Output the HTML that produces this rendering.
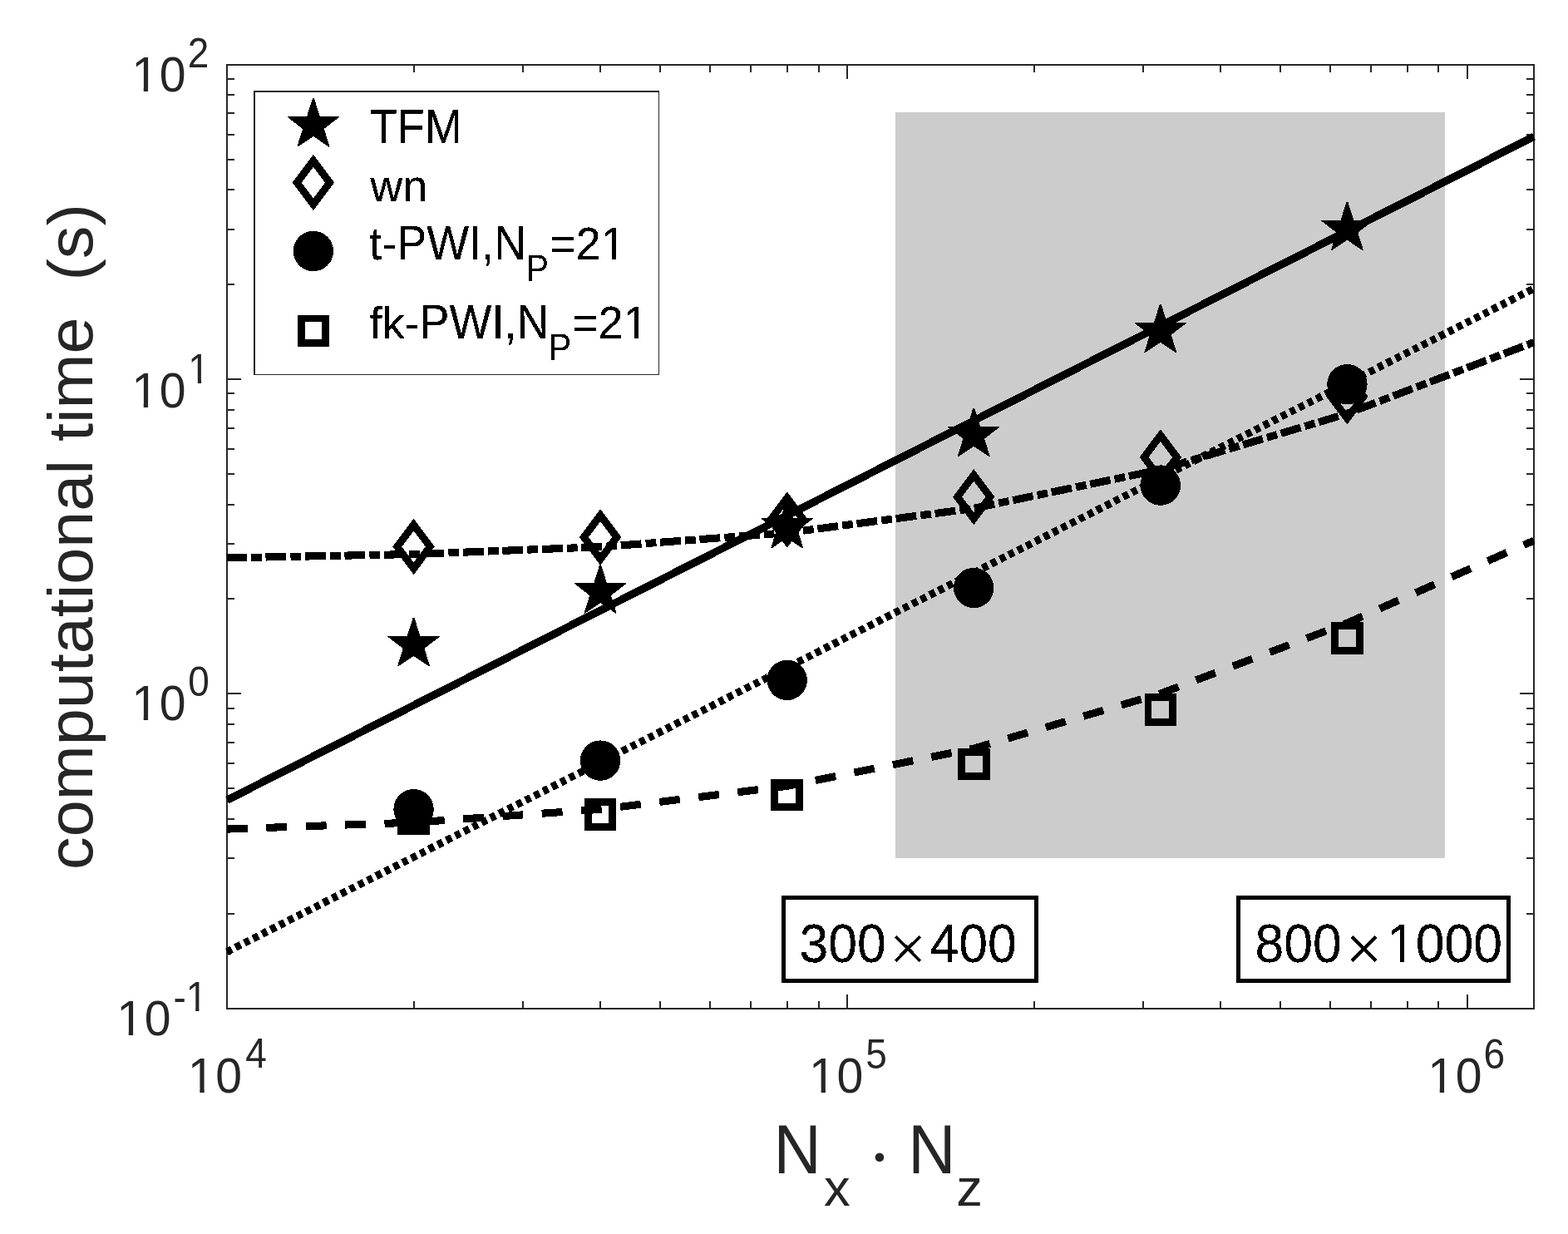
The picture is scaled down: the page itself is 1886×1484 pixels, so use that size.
<!DOCTYPE html>
<html lang="en"><head><meta charset="utf-8"><title>Computational time vs image size</title>
<style>html,body{margin:0;padding:0;background:#fff}body{width:1886px;height:1484px;overflow:hidden}svg{display:block}text{font-family:"Liberation Sans",sans-serif}.sf{font-family:"Liberation Serif",serif}</style>
</head><body>
<svg xmlns="http://www.w3.org/2000/svg" width="1886" height="1484" viewBox="0 0 1886 1484">
<rect x="0" y="0" width="1886" height="1484" fill="#fff"/>
<defs><filter id="crisp" filterUnits="userSpaceOnUse" x="0" y="0" width="1886" height="1484" color-interpolation-filters="sRGB"><feComponentTransfer><feFuncA type="discrete" tableValues="0 0 1 1 1"/></feComponentTransfer></filter></defs>
<defs><clipPath id="ax"><rect x="271.50" y="78.00" width="1575.00" height="1135.00"/></clipPath></defs>
<rect x="1077" y="135" width="661" height="897" fill="#cccccc" shape-rendering="crispEdges"/>
<g stroke="#262626" stroke-width="2" fill="none" shape-rendering="crispEdges">
<rect x="273.0" y="78.0" width="1572.0" height="1135.0"/>
<path d="M498.00 1213.00v-8.70M498.00 78.00v8.70M629.00 1213.00v-8.70M629.00 78.00v8.70M722.00 1213.00v-8.70M722.00 78.00v8.70M794.00 1213.00v-8.70M794.00 78.00v8.70M854.00 1213.00v-8.70M854.00 78.00v8.70M903.00 1213.00v-8.70M903.00 78.00v8.70M947.00 1213.00v-8.70M947.00 78.00v8.70M985.00 1213.00v-8.70M985.00 78.00v8.70M1019.00 1213.00v-17.00M1019.00 78.00v17.00M1244.00 1213.00v-8.70M1244.00 78.00v8.70M1375.00 1213.00v-8.70M1375.00 78.00v8.70M1468.00 1213.00v-8.70M1468.00 78.00v8.70M1540.00 1213.00v-8.70M1540.00 78.00v8.70M1600.00 1213.00v-8.70M1600.00 78.00v8.70M1649.00 1213.00v-8.70M1649.00 78.00v8.70M1693.00 1213.00v-8.70M1693.00 78.00v8.70M1730.00 1213.00v-8.70M1730.00 78.00v8.70M1765.00 1213.00v-17.00M1765.00 78.00v17.00M273.00 1099.00h8.70M1845.00 1099.00h-8.70M273.00 1032.00h8.70M1845.00 1032.00h-8.70M273.00 985.00h8.70M1845.00 985.00h-8.70M273.00 948.00h8.70M1845.00 948.00h-8.70M273.00 918.00h8.70M1845.00 918.00h-8.70M273.00 893.00h8.70M1845.00 893.00h-8.70M273.00 871.00h8.70M1845.00 871.00h-8.70M273.00 852.00h8.70M1845.00 852.00h-8.70M273.00 834.00h17.00M1845.00 834.00h-17.00M273.00 720.00h8.70M1845.00 720.00h-8.70M273.00 654.00h8.70M1845.00 654.00h-8.70M273.00 607.00h8.70M1845.00 607.00h-8.70M273.00 570.00h8.70M1845.00 570.00h-8.70M273.00 540.00h8.70M1845.00 540.00h-8.70M273.00 515.00h8.70M1845.00 515.00h-8.70M273.00 493.00h8.70M1845.00 493.00h-8.70M273.00 473.00h8.70M1845.00 473.00h-8.70M273.00 456.00h17.00M1845.00 456.00h-17.00M273.00 342.00h8.70M1845.00 342.00h-8.70M273.00 276.00h8.70M1845.00 276.00h-8.70M273.00 228.00h8.70M1845.00 228.00h-8.70M273.00 192.00h8.70M1845.00 192.00h-8.70M273.00 162.00h8.70M1845.00 162.00h-8.70M273.00 136.00h8.70M1845.00 136.00h-8.70M273.00 114.00h8.70M1845.00 114.00h-8.70M273.00 95.00h8.70M1845.00 95.00h-8.70"/>
</g>
<g clip-path="url(#ax)" fill="none" stroke="#000" stroke-width="9.1" stroke-linejoin="round" shape-rendering="crispEdges">
<polyline points="273.00,962.30 497.57,848.20 722.14,734.10 946.71,620.00 1171.27,505.90 1395.84,391.90 1620.41,278.00 1844.98,164.10" stroke-width="9.3"/>
<polyline points="273.00,670.90 497.57,666.50 722.14,657.70 946.71,640.70 1171.27,611.40 1395.84,564.70 1620.41,497.40 1844.98,411.60" stroke-dasharray="24.9 5.1 12.8 4.7" stroke-dashoffset="1.0"/>
<polyline points="273.00,1144.70 497.57,1030.70 722.14,916.80 946.71,802.80 1171.27,688.80 1395.84,574.80 1620.41,460.90 1844.98,347.00" stroke-dasharray="7.0 4.853" stroke-dashoffset="0.3"/>
<polyline points="273.00,997.10 497.57,989.10 722.14,973.30 946.71,945.30 1171.27,900.10 1395.84,834.10 1620.41,749.20 1844.98,650.10" stroke-dasharray="24.9 22.5" stroke-dashoffset="0"/>
</g>
<rect x="305.8" y="110.1" width="486.8" height="340.4" fill="#fff" stroke="#262626" stroke-width="1.6" shape-rendering="crispEdges"/>
<g shape-rendering="crispEdges">
<g fill="#000" stroke="none">
<polygon points="498.47,742.90 505.47,765.20 528.87,765.20 528.47,766.00 510.47,779.90 517.07,801.00 516.17,801.50 497.57,788.90 478.97,801.50 478.07,801.00 484.67,779.90 466.67,766.00 466.27,765.20 489.67,765.20 496.67,742.90"/>
<polygon points="723.04,679.10 730.04,701.40 753.44,701.40 753.04,702.20 735.04,716.10 741.64,737.20 740.74,737.70 722.14,725.10 703.54,737.70 702.64,737.20 709.24,716.10 691.24,702.20 690.84,701.40 714.24,701.40 721.24,679.10"/>
<polygon points="947.61,600.90 954.61,623.20 978.01,623.20 977.61,624.00 959.61,637.90 966.21,659.00 965.31,659.50 946.71,646.90 928.11,659.50 927.21,659.00 933.81,637.90 915.81,624.00 915.41,623.20 938.81,623.20 945.81,600.90"/>
<polygon points="1172.17,490.70 1179.17,513.00 1202.57,513.00 1202.17,513.80 1184.17,527.70 1190.77,548.80 1189.87,549.30 1171.27,536.70 1152.67,549.30 1151.77,548.80 1158.37,527.70 1140.37,513.80 1139.97,513.00 1163.37,513.00 1170.37,490.70"/>
<polygon points="1396.74,365.70 1403.74,388.00 1427.14,388.00 1426.74,388.80 1408.74,402.70 1415.34,423.80 1414.44,424.30 1395.84,411.70 1377.24,424.30 1376.34,423.80 1382.94,402.70 1364.94,388.80 1364.54,388.00 1387.94,388.00 1394.94,365.70"/>
<polygon points="1621.31,242.70 1628.31,265.00 1651.71,265.00 1651.31,265.80 1633.31,279.70 1639.91,300.80 1639.01,301.30 1620.41,288.70 1601.81,301.30 1600.91,300.80 1607.51,279.70 1589.51,265.80 1589.11,265.00 1612.51,265.00 1619.51,242.70"/>
<polygon points="377.80,118.00 384.80,140.30 408.20,140.30 407.80,141.10 389.80,155.00 396.40,176.10 395.50,176.60 376.90,164.00 358.30,176.60 357.40,176.10 364.00,155.00 346.00,141.10 345.60,140.30 369.00,140.30 376.00,118.00"/>
<circle cx="497.57" cy="973.20" r="24.20"/>
<circle cx="722.14" cy="914.60" r="24.20"/>
<circle cx="946.71" cy="817.90" r="24.20"/>
<circle cx="1171.27" cy="707.00" r="24.20"/>
<circle cx="1395.84" cy="583.60" r="24.20"/>
<circle cx="1620.41" cy="462.20" r="24.20"/>
<circle cx="376.90" cy="302.00" r="24.20"/>
</g>
<g fill="none" stroke="#000" stroke-width="8.9" stroke-linejoin="miter" stroke-miterlimit="10">
<polygon points="497.57,631.10 517.27,657.40 497.57,683.70 477.87,657.40"/>
<polygon points="722.14,619.70 741.84,646.00 722.14,672.30 702.44,646.00"/>
<polygon points="946.71,598.70 966.41,625.00 946.71,651.30 927.01,625.00"/>
<polygon points="1171.27,571.30 1190.97,597.60 1171.27,623.90 1151.57,597.60"/>
<polygon points="1395.84,523.60 1415.54,549.90 1395.84,576.20 1376.14,549.90"/>
<polygon points="1620.41,450.60 1640.11,476.90 1620.41,503.20 1600.71,476.90"/>
<polygon points="376.90,193.30 396.60,219.60 376.90,245.90 357.20,219.60"/>
<rect x="482.77" y="970.00" width="29.60" height="29.60"/>
<rect x="707.34" y="964.70" width="29.60" height="29.60"/>
<rect x="931.91" y="941.10" width="29.60" height="29.60"/>
<rect x="1156.47" y="904.20" width="29.60" height="29.60"/>
<rect x="1381.04" y="838.70" width="29.60" height="29.60"/>
<rect x="1605.61" y="752.70" width="29.60" height="29.60"/>
<rect x="362.10" y="383.00" width="29.60" height="29.60"/>
</g></g>
<rect x="942.3" y="1079.6" width="304.29999999999995" height="99.80000000000018" fill="#fff" stroke="#000" stroke-width="4.7" shape-rendering="crispEdges"/>
<rect x="1489.5" y="1079.5" width="324.9000000000001" height="100.0" fill="#fff" stroke="#000" stroke-width="4.7" shape-rendering="crispEdges"/>
<defs><clipPath id="c0"><path d="M-8.75 -64.16H41.19V-4.96H-8.75ZM-8.75 -4.96H1.75V20.42H-8.75ZM14.57 -4.96H19.92V20.42H14.57ZM32.66 -4.96H41.19V20.42H32.66Z"/></clipPath><clipPath id="c1"><path d="M-8.75 -64.16H41.19V-4.96H-8.75ZM-8.75 -4.96H1.75V20.42H-8.75ZM14.57 -4.96H19.92V20.42H14.57ZM32.66 -4.96H41.19V20.42H32.66Z"/></clipPath><clipPath id="c2"><path d="M-6.9 -50.6H32.48V-4.04H-6.9ZM-6.9 -4.04H1.38V16.1H-6.9ZM11.47 -4.04H15.73V16.1H11.47ZM25.76 -4.04H32.48V16.1H25.76Z"/></clipPath><clipPath id="c3"><path d="M-8.75 -64.16H41.19V-4.96H-8.75ZM-8.75 -4.96H1.75V20.42H-8.75ZM14.57 -4.96H19.92V20.42H14.57ZM32.66 -4.96H41.19V20.42H32.66Z"/></clipPath><clipPath id="c4"><path d="M-8.75 -64.16H41.19V-4.96H-8.75ZM-8.75 -4.96H1.75V20.42H-8.75ZM14.57 -4.96H19.92V20.42H14.57ZM32.66 -4.96H41.19V20.42H32.66Z"/></clipPath><clipPath id="c5"><path d="M-6.9 -50.6H47.8V-4.04H-6.9ZM-6.9 -4.04H16.7V16.1H-6.9ZM26.79 -4.04H31.05V16.1H26.79ZM41.08 -4.04H47.8V16.1H41.08Z"/></clipPath><clipPath id="c6"><path d="M-8.75 -64.16H41.19V-4.96H-8.75ZM-8.75 -4.96H1.75V20.42H-8.75ZM14.57 -4.96H19.92V20.42H14.57ZM32.66 -4.96H41.19V20.42H32.66Z"/></clipPath><clipPath id="c7"><path d="M-8.75 -64.16H41.19V-4.96H-8.75ZM-8.75 -4.96H1.75V20.42H-8.75ZM14.57 -4.96H19.92V20.42H14.57ZM32.66 -4.96H41.19V20.42H32.66Z"/></clipPath><clipPath id="c8"><path d="M-8.75 -64.16H41.19V-4.96H-8.75ZM-8.75 -4.96H1.75V20.42H-8.75ZM14.57 -4.96H19.92V20.42H14.57ZM32.66 -4.96H41.19V20.42H32.66Z"/></clipPath><clipPath id="c9"><path d="M-8.1 -59.4H99.7V-4.63H-8.1ZM-8.1 -4.63H63.19V18.9H-8.1ZM75.05 -4.63H80.02V18.9H75.05ZM91.81 -4.63H99.7V18.9H91.81Z"/></clipPath><clipPath id="c10"><path d="M-8.1 -59.4H99.7V-4.63H-8.1ZM-8.1 -4.63H63.19V18.9H-8.1ZM75.05 -4.63H80.02V18.9H75.05ZM91.81 -4.63H99.7V18.9H91.81Z"/></clipPath><clipPath id="c11"><path d="M-9.38 -68.75H148.41V-5.27H-9.38ZM-9.38 -5.27H1.88V21.88H-9.38ZM15.62 -5.27H21.34V21.88H15.62ZM35 -5.27H148.41V21.88H35Z"/></clipPath></defs>
<g>
<text transform="translate(158.15,110) scale(1,1.02)" font-size="58.33" fill="#262626" clip-path="url(#c0)" style="font-kerning:none">1</text>
<text transform="translate(191.65,110) scale(0.98,1.02)" font-size="58.33" fill="#262626">0</text>
<text transform="translate(225.65,81) scale(1,1.08)" font-size="46.0" fill="#262626">2</text>
<text transform="translate(158.15,489.7) scale(1,1.02)" font-size="58.33" fill="#262626" clip-path="url(#c1)" style="font-kerning:none">1</text>
<text transform="translate(191.65,489.7) scale(0.98,1.02)" font-size="58.33" fill="#262626">0</text>
<text transform="translate(226.35,460.7) scale(1,1.08)" font-size="46.0" fill="#262626" clip-path="url(#c2)" style="font-kerning:none">1</text>
<text transform="translate(158.15,866) scale(1,1.02)" font-size="58.33" fill="#262626" clip-path="url(#c3)" style="font-kerning:none">1</text>
<text transform="translate(191.65,866) scale(0.98,1.02)" font-size="58.33" fill="#262626">0</text>
<text transform="translate(226.15,837) scale(1,1.08)" font-size="46.0" fill="#262626">0</text>
<text transform="translate(140.2,1245) scale(1,1.02)" font-size="58.33" fill="#262626" clip-path="url(#c4)" style="font-kerning:none">1</text>
<text transform="translate(173.7,1245) scale(0.98,1.02)" font-size="58.33" fill="#262626">0</text>
<text transform="translate(208.4,1216) scale(1,1.08)" font-size="46.0" fill="#262626" clip-path="url(#c5)" style="font-kerning:none">-1</text>
<text transform="translate(225.8,1313.7) scale(1,1.02)" font-size="58.33" fill="#262626" clip-path="url(#c6)" style="font-kerning:none">1</text>
<text transform="translate(259.3,1313.7) scale(0.98,1.02)" font-size="58.33" fill="#262626">0</text>
<text transform="translate(295.2,1284.1) scale(1,1.08)" font-size="46.0" fill="#262626">4</text>
<text transform="translate(973.05,1313.7) scale(1,1.02)" font-size="58.33" fill="#262626" clip-path="url(#c7)" style="font-kerning:none">1</text>
<text transform="translate(1006.55,1313.7) scale(0.98,1.02)" font-size="58.33" fill="#262626">0</text>
<text transform="translate(1041.15,1284.6) scale(1,1.08)" font-size="46.0" fill="#262626">5</text>
<text transform="translate(1717.15,1313.7) scale(1,1.02)" font-size="58.33" fill="#262626" clip-path="url(#c8)" style="font-kerning:none">1</text>
<text transform="translate(1750.65,1313.7) scale(0.98,1.02)" font-size="58.33" fill="#262626">0</text>
<text transform="translate(1784.55,1284.6) scale(1,1.08)" font-size="46.0" fill="#262626">6</text>
<text transform="translate(930.6,1411) scale(1,1.05)" font-size="79.17" fill="#262626">N</text>
<text x="990.9" y="1449.8" font-size="63.3" fill="#262626">x</text>
<text x="1043.06" y="1421" font-size="89.7" fill="#262626" class="sf">·</text>
<text transform="translate(1092.2,1411) scale(1,1.05)" font-size="79.17" fill="#262626">N</text>
<text x="1150.2" y="1450" font-size="63.3" fill="#262626">z</text>
<text transform="translate(110.6,1045.9) rotate(-90) scale(1,0.97)" font-size="79.17" fill="#262626" xml:space="preserve">computational time  (s)</text>
</g>
<g filter="url(#crisp)">
<text transform="translate(444.7,172.1) scale(1,1.065)" font-size="54.0">TFM</text>
<text x="445.3" y="241.8" font-size="54.0">wn</text>
<text transform="translate(444.2,312.1) scale(1,1.03)" font-size="54.0">t-</text>
<text transform="translate(477.18,312.1) scale(1,1.065)" font-size="54.0">PWI,N</text>
<text transform="translate(632.8,337.7) scale(1,1.065)" font-size="41">P</text>
<text transform="translate(661,312.1) scale(1,1.02)" font-size="54.0" clip-path="url(#c9)" style="font-kerning:none">=21</text>
<text x="444.5" y="406.9" font-size="54.0">fk-</text>
<text transform="translate(504.48,406.9) scale(1,1.065)" font-size="54.0">PWI,N</text>
<text transform="translate(659.9,432.5) scale(1,1.065)" font-size="41">P</text>
<text transform="translate(688,406.9) scale(1,1.02)" font-size="54.0" clip-path="url(#c10)" style="font-kerning:none">=21</text>
<text transform="translate(961.5,1156.6) scale(1,1.03)" font-size="62.5">300</text>
<text transform="translate(1118.6,1156.6) scale(1,1.03)" font-size="62.5">400</text>
<text transform="translate(1509.6,1156.9) scale(1,1.03)" font-size="62.5">800</text>
<text transform="translate(1668,1156.9) scale(1,1.03)" font-size="62.5" clip-path="url(#c11)" style="font-kerning:none">1000</text>
<text x="1069.8" y="1166.5" font-size="78.7" class="sf">×</text>
<text x="1618.2" y="1166.9" font-size="78.7" class="sf">×</text>
</g>
</svg></body></html>
